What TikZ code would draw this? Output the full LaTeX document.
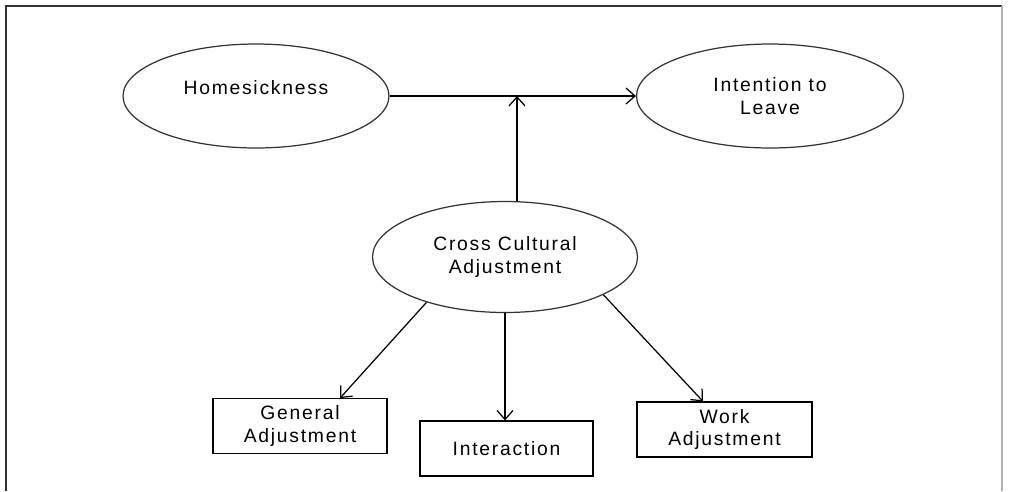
\documentclass[tikz,border=0pt]{standalone}
\usepackage{fontspec}
\setmainfont{Liberation Sans}[LetterSpace=9.0]
\usetikzlibrary{shapes.geometric,arrows.meta}

\tikzset{
    % Construct styles - ellipses
    construct/.style={ellipse, draw=black!80, line width=0.7pt, inner sep=0pt,
        align=center, font=\fontsize{11}{13}\selectfont},
    % Dimension styles - boxes
    dimension/.style={rectangle, draw=black, line width=0.7pt, inner sep=0pt,
        align=center, minimum height=1.09cm, font=\fontsize{11}{13}\selectfont},
    % Arrow styles
    link/.style={-{Straight Barb[length=1.8mm,width=3.2mm]}, line width=0.7pt, black},
    % Border of the figure
    border line/.style={line width=0.7pt, black!80},
}

\begin{document}
\begin{tikzpicture}[x=0.02cm,y=-0.02cm]
    \useasboundingbox (0,0) rectangle (1011,491);

    % Border
    \draw[border line] (6,491) -- (6,6) -- (1002,6);
    \draw[border line,black!30] (1002,6) -- (1002,491);

    % Top row
    \node[construct, minimum width=5.32cm, minimum height=2.08cm, text depth=0.36cm] (home) at (256,96) {Homesickness};
    \node[construct, minimum width=5.34cm, minimum height=2.08cm] (leave) at (770,96) {Intention to\\Leave};

    % Moderator
    \node[construct, minimum width=5.3cm, minimum height=2.22cm] (cca) at (505,257) {Cross Cultural\\Adjustment};

    % Dimensions
    \node[dimension, minimum width=3.48cm] (general) at (300,426) {General\\Adjustment};
    \node[dimension, minimum width=3.46cm, minimum height=1.1cm] (interaction) at (506.5,448.5) {Interaction};
    \node[dimension, minimum width=3.5cm, minimum height=1.1cm] (work) at (724.5,429.5) {Work\\Adjustment};

    % Arrows
    \draw[link] (home) -- (leave);
    \draw[link] ([xshift=0.24cm]cca.north) -- ([xshift=0.24cm]cca.north |- home.east);
    \draw[link] (cca.210) -- ([xshift=0.8cm]general.north);
    \draw[link] (cca.south) -- (cca.south |- interaction.north);
    \draw[link] (cca.339) -- ([xshift=-0.43cm]work.north);
\end{tikzpicture}
\end{document}
